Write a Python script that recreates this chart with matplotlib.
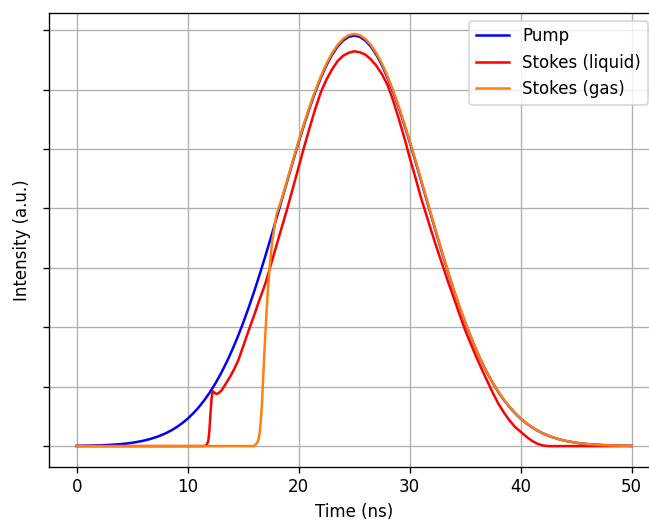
import matplotlib
matplotlib.use("Agg")
import matplotlib.pyplot as plt

# Pump: left half (t = 0 .. 25 ns); the pulse is symmetric about 25 ns
pump_t_left = [0, 1, 2, 3, 4, 4.5, 5, 5.5, 6, 6.5, 7, 7.5, 8, 8.5, 9, 9.5, 10,
               10.5, 11, 11.5, 12, 12.5, 13, 13.5, 14, 14.5, 15, 15.5, 16, 16.5,
               17, 17.5, 18, 18.5, 19, 19.5, 20, 20.5, 21, 21.5, 22, 22.5, 23,
               23.5, 24, 24.5, 25]
pump_y_left = [0.0004, 0.0007, 0.0012, 0.0021, 0.0034, 0.0044, 0.0056, 0.0072,
               0.0090, 0.0113, 0.0141, 0.0174, 0.0214, 0.0262, 0.0319, 0.0385,
               0.0462, 0.0552, 0.0655, 0.0773, 0.0906, 0.1057, 0.1224, 0.1410,
               0.1614, 0.1837, 0.2077, 0.2336, 0.2610, 0.2900, 0.3202, 0.3514,
               0.3835, 0.4159, 0.4483, 0.4804, 0.5117, 0.5417, 0.5701, 0.5964,
               0.6201, 0.6410, 0.6586, 0.6726, 0.6827, 0.6889, 0.6910]
pump_t = pump_t_left + [50 - t for t in pump_t_left[-2::-1]]
pump_y = pump_y_left + pump_y_left[-2::-1]

# Stokes (liquid)
liq_t = [0, 11.5, 11.7, 11.85, 11.95, 12.05, 12.15, 12.25, 12.4, 12.6, 12.8,
         13.06, 13.4, 13.81, 14.2, 14.56, 15.0, 15.46, 16.0, 16.43, 17.0,
         17.41, 18.0, 18.97, 19.5, 20.0, 20.4, 21, 21.5, 22, 22.5, 23, 23.5,
         24, 24.5, 25, 25.5, 26, 26.5, 27, 27.5, 28, 28.5, 29, 29.5, 30, 30.5,
         31, 31.5, 32, 32.5, 33, 33.5, 34, 34.5, 35, 35.5, 36, 36.5, 37, 37.5,
         38, 38.5, 39, 39.5, 40, 40.5, 41, 41.5, 42, 42.5, 50]
liq_y = [0, 0, 0.002, 0.008, 0.025, 0.055, 0.080, 0.0926, 0.090, 0.0876,
         0.0895, 0.094, 0.104, 0.1166, 0.130, 0.1447, 0.168, 0.193, 0.221,
         0.2445, 0.274, 0.300, 0.338, 0.400, 0.436, 0.470, 0.4977, 0.537,
         0.568, 0.596, 0.617, 0.634, 0.648, 0.657, 0.662, 0.6645, 0.663,
         0.659, 0.651, 0.640, 0.626, 0.608, 0.582, 0.552, 0.520, 0.4855,
         0.453, 0.419, 0.389, 0.359, 0.330, 0.302, 0.274, 0.248, 0.221,
         0.195, 0.172, 0.150, 0.129, 0.109, 0.089, 0.071, 0.056, 0.043,
         0.032, 0.024, 0.016, 0.009, 0.004, 0.001, 0.0, 0.0]

# Stokes (gas)
gas_t = [0, 15.9, 16.1, 16.3, 16.4, 16.5, 16.6, 16.7, 16.8, 16.9, 17.0, 17.1,
         17.2, 17.35, 17.6, 18.0, 18.5, 19, 19.5, 20, 20.5, 21, 21.5, 22, 22.5,
         23, 23.5, 24, 24.5, 25, 25.5, 26, 26.5, 27, 27.5, 28, 28.5, 29, 29.5,
         30, 30.5, 31, 31.5, 32, 32.5, 33, 33.5, 34, 34.5, 35, 35.5, 36, 36.5,
         37, 37.5, 38, 38.5, 39, 39.5, 40, 40.5, 41, 41.5, 42, 42.5, 43, 43.5,
         44, 44.5, 45, 46, 47, 48, 49, 50]
gas_y = [0, 0, 0.002, 0.007, 0.013, 0.025, 0.045, 0.075, 0.115, 0.155, 0.190,
         0.225, 0.255, 0.295, 0.343, 0.390, 0.418, 0.4501, 0.4823, 0.5137,
         0.5439, 0.5724, 0.5988, 0.6226, 0.6436, 0.6612, 0.6753, 0.6854,
         0.6917, 0.6938, 0.6917, 0.6854, 0.6753, 0.6612, 0.6436, 0.6226,
         0.5988, 0.5724, 0.5439, 0.5137, 0.4823, 0.4501, 0.4176, 0.3850,
         0.3528, 0.3215, 0.2912, 0.2620, 0.2345, 0.2085, 0.1844, 0.1620,
         0.1416, 0.1229, 0.1061, 0.0910, 0.0776, 0.0658, 0.0554, 0.0464,
         0.0387, 0.0320, 0.0263, 0.0215, 0.0175, 0.0142, 0.0113, 0.0090,
         0.0072, 0.0056, 0.0034, 0.0021, 0.0012, 0.0007, 0.0004]

y_ticks = [0.0, 0.1, 0.2, 0.3, 0.4, 0.5, 0.6, 0.7]
x_ticks = [0, 10, 20, 30, 40, 50]

DPI = 120
fig = plt.figure(figsize=(649 / DPI, 521 / DPI), dpi=DPI)
ax = fig.add_axes([0.07543, 0.10422, 0.94068, 0.87025])
ax.plot(pump_t, pump_y, color="#0000ff", lw=1.5, label="Pump")
ax.plot(liq_t, liq_y, color="#ff0000", lw=1.5, label="Stokes (liquid)")
ax.plot(gas_t, gas_y, color="#ff7f0e", lw=1.5, label="Stokes (gas)")
ax.set_xticks(x_ticks)
ax.set_yticks(y_ticks)
ax.set_yticklabels([])
ax.grid(True)
ax.set_xlabel("Time (ns)")
ax.set_ylabel("Intensity (a.u.)")
ax.legend(loc="upper right", bbox_to_anchor=(0.981, 0.984), borderaxespad=0)
fig.savefig("out.png", dpi=DPI)
